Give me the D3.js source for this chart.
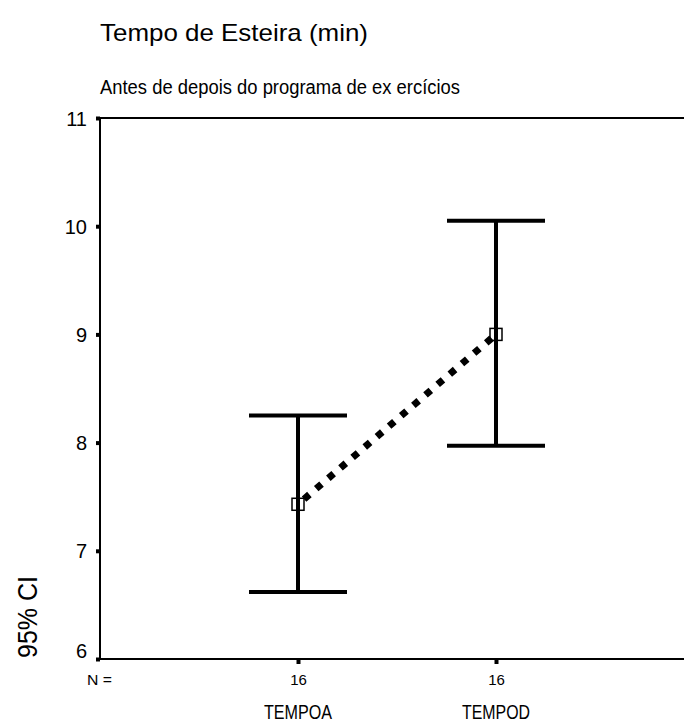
<!DOCTYPE html>
<html>
<head>
<meta charset="utf-8">
<script src="https://cdn.jsdelivr.net/npm/d3@7"></script>
<style>
  body { margin: 0; background: #fff; }
  svg { display: block; }
</style>
</head>
<body>
<script>
'use strict';

// data
const groups = ["TEMPOA", "TEMPOD"];
const nValues = [16, 16];
const means = [7.43, 9.0];
const lowerCI = [6.62, 7.97];
const upperCI = [8.25, 10.05];
const yTicks = [6, 7, 8, 9, 10, 11];

(function() {
  const width = 684, height = 722;
  const mLeft = 100, mTop = 118, mBottom = 659, mRight = 694;

  const svg = d3.select('body').append('svg')
    .attr('width', width)
    .attr('height', height);

  const x = d3.scalePoint()
    .domain(groups)
    .range([mLeft, mRight])
    .padding(1);

  const y = d3.scaleLinear()
    .domain([6, 11])
    .range([mBottom, mTop]);

  const sans = "'Liberation Sans', Arial, sans-serif";

  // titles
  svg.append('text')
    .attr('x', 100)
    .attr('y', 41)
    .attr('textLength', 268)
    .attr('lengthAdjust', 'spacingAndGlyphs')
    .style('font-family', sans)
    .style('font-size', '24px')
    .text('Tempo de Esteira (min)');

  svg.append('text')
    .attr('x', 100)
    .attr('y', 94)
    .attr('textLength', 360)
    .attr('lengthAdjust', 'spacingAndGlyphs')
    .style('font-family', sans)
    .style('font-size', '20px')
    .text('Antes de depois do programa de ex ercícios');

  // top frame line
  svg.append('line')
    .attr('x1', mLeft).attr('x2', width)
    .attr('y1', mTop).attr('y2', mTop)
    .attr('stroke', '#000').attr('stroke-width', 2);

  // y axis
  const yAxis = svg.append('g')
    .attr('transform', 'translate(' + mLeft + ',0)')
    .call(d3.axisLeft(y).tickValues(yTicks).tickSize(4).tickPadding(9).tickFormat(d3.format('d')));
  yAxis.select('.domain')
    .attr('d', 'M0,' + mTop + 'V' + mBottom)
    .attr('stroke-width', 2);
  yAxis.selectAll('.tick line').attr('stroke-width', 4);
  yAxis.selectAll('.tick text')
    .attr('dy', d => d === 6 ? '-0.1em' : '0.35em')
    .style('font-family', sans)
    .style('font-size', '20px');

  // x axis
  const xAxis = svg.append('g')
    .attr('transform', 'translate(0,' + mBottom + ')')
    .call(d3.axisBottom(x).tickSize(5).tickFormat((d, i) => nValues[i]));
  xAxis.select('.domain')
    .attr('d', 'M' + mLeft + ',0H' + width)
    .attr('stroke-width', 2);
  xAxis.selectAll('.tick line').attr('stroke-width', 4);
  xAxis.selectAll('.tick text')
    .attr('y', 26)
    .attr('dy', 0)
    .style('font-family', sans)
    .style('font-size', '15px');

  svg.append('text')
    .attr('x', 87)
    .attr('y', 685)
    .attr('textLength', 25)
    .attr('lengthAdjust', 'spacingAndGlyphs')
    .style('font-family', sans)
    .style('font-size', '15px')
    .text('N =');

  // category labels
  svg.selectAll('.cat')
    .data(groups)
    .enter()
    .append('text')
    .attr('class', 'cat')
    .attr('x', d => x(d) - 34)
    .attr('y', 719)
    .attr('textLength', 68)
    .attr('lengthAdjust', 'spacingAndGlyphs')
    .style('font-family', sans)
    .style('font-size', '20px')
    .text(d => d);

  // y axis label
  svg.append('text')
    .attr('transform', 'translate(37,658)rotate(-90)')
    .attr('textLength', 82)
    .attr('lengthAdjust', 'spacingAndGlyphs')
    .style('font-family', sans)
    .style('font-size', '27px')
    .text('95% CI');

  // error bars
  const bars = svg.selectAll('.bar')
    .data(groups)
    .enter()
    .append('g')
    .attr('class', 'bar');

  bars.append('line')
    .attr('x1', d => x(d)).attr('x2', d => x(d))
    .attr('y1', (d, i) => y(lowerCI[i]))
    .attr('y2', (d, i) => y(upperCI[i]))
    .attr('stroke', '#000').attr('stroke-width', 4);

  bars.append('line')
    .attr('x1', d => x(d) - 49).attr('x2', d => x(d) + 49)
    .attr('y1', (d, i) => y(upperCI[i]))
    .attr('y2', (d, i) => y(upperCI[i]))
    .attr('stroke', '#000').attr('stroke-width', 4);

  bars.append('line')
    .attr('x1', d => x(d) - 49).attr('x2', d => x(d) + 49)
    .attr('y1', (d, i) => y(lowerCI[i]))
    .attr('y2', (d, i) => y(lowerCI[i]))
    .attr('stroke', '#000').attr('stroke-width', 4);

  // dotted line between means
  const line = d3.line()
    .x(d => x(d))
    .y((d, i) => y(means[i]));

  svg.append('path')
    .datum(groups)
    .attr('d', line)
    .attr('fill', 'none')
    .attr('stroke', '#000')
    .attr('stroke-width', 7)
    .attr('stroke-dasharray', '7,9')
    .attr('stroke-dashoffset', -8);

  // mean markers
  svg.selectAll('.mean')
    .data(groups)
    .enter()
    .append('rect')
    .attr('class', 'mean')
    .attr('x', d => x(d) - 6)
    .attr('y', (d, i) => y(means[i]) - 6)
    .attr('width', 12)
    .attr('height', 12)
    .attr('fill', 'none')
    .attr('stroke', '#000')
    .attr('stroke-width', 1.5);
})();
</script>
</body>
</html>
